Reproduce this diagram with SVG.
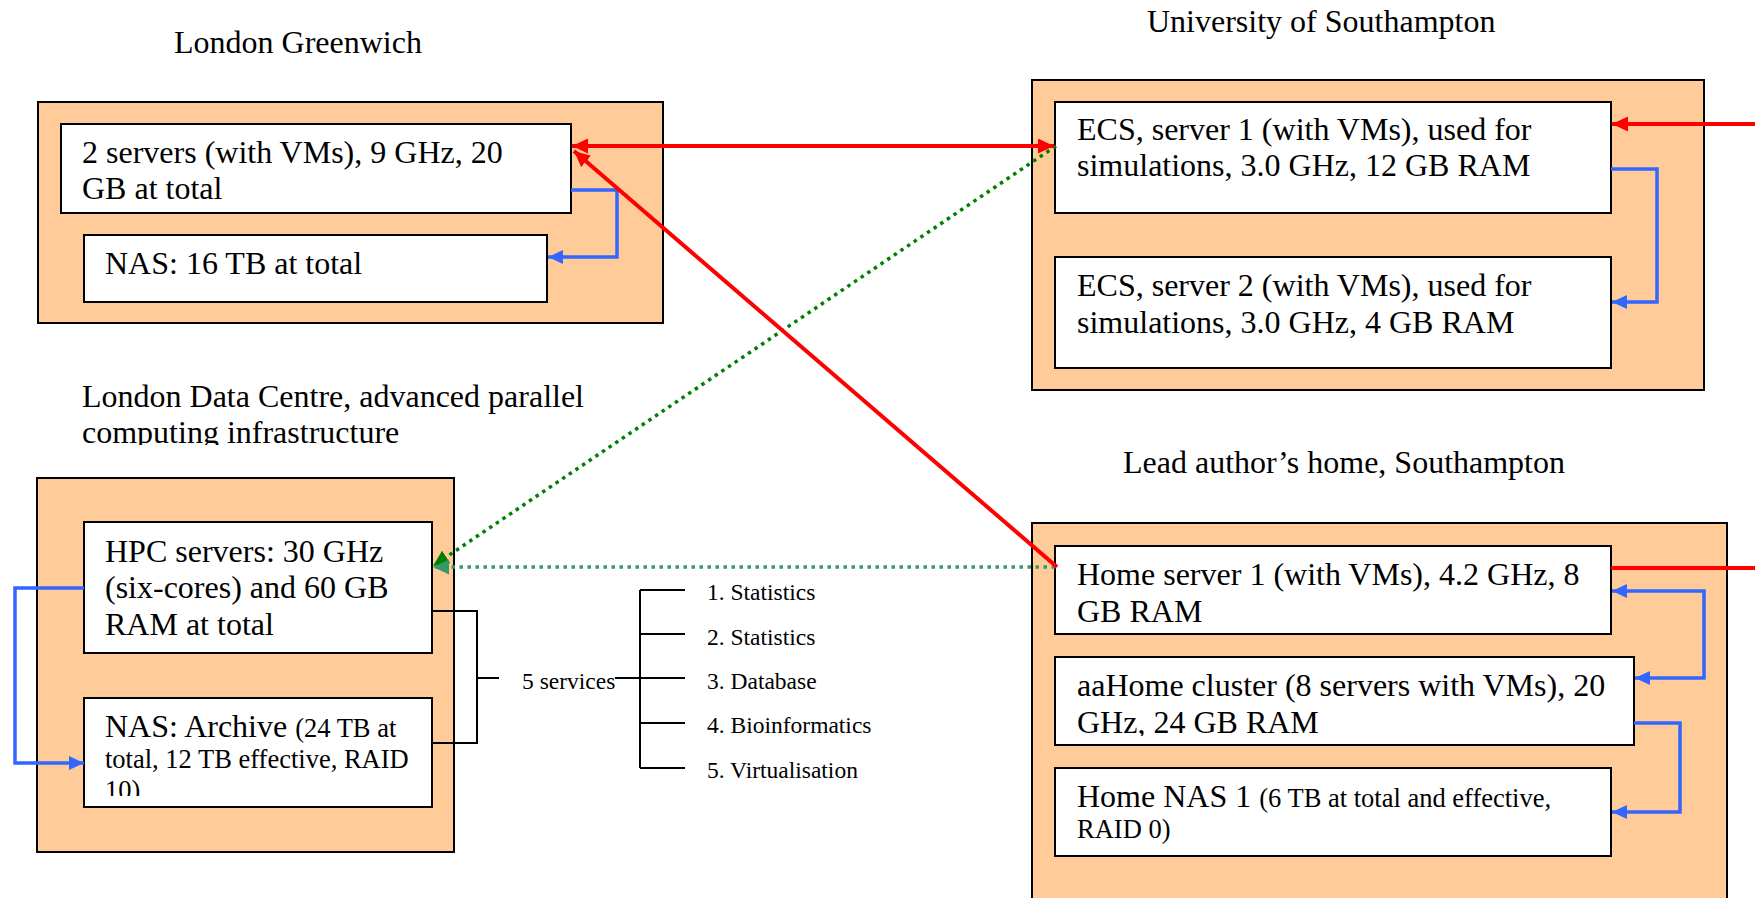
<svg xmlns="http://www.w3.org/2000/svg" width="1755" height="898" viewBox="0 0 1755 898">
  <defs>
    <style>
      text { font-family: "Liberation Serif", "Times New Roman", serif; fill: #000; }
      .title { font-size: 32px; }
      .big { font-size: 32px; }
      .small { font-size: 26.5px; }
      .svc { font-size: 23.5px; }
      .site { fill: #FFCC99; stroke: #000; stroke-width: 2; }
      .box { fill: #FFFFFF; stroke: #000; stroke-width: 2; }
      .red { fill: none; stroke: #FF0000; stroke-width: 4; }
      .blue { fill: none; stroke: #3366FF; stroke-width: 3.5; }
      .green { fill: none; stroke: #008000; stroke-width: 3.5; stroke-dasharray: 3.5 4.5; }
      .sea { fill: none; stroke: #339966; stroke-width: 3.5; stroke-dasharray: 3.5 4.5; }
      .tree { fill: none; stroke: #000; stroke-width: 2; }
    </style>
    <marker id="arrRed" markerUnits="userSpaceOnUse" markerWidth="17" markerHeight="16" refX="16" refY="7.5" orient="auto-start-reverse">
      <path d="M0,0 L16,7.5 L0,15 z" fill="#FF0000"/>
    </marker>
    <marker id="arrBlue" markerUnits="userSpaceOnUse" markerWidth="16" markerHeight="15" refX="15" refY="7" orient="auto-start-reverse">
      <path d="M0,0 L15,7 L0,14 z" fill="#3366FF"/>
    </marker>
    <marker id="arrGreen" markerUnits="userSpaceOnUse" markerWidth="17" markerHeight="16" refX="16" refY="7.5" orient="auto">
      <path d="M0,0 L16,7.5 L0,15 z" fill="#008000"/>
    </marker>
    <marker id="arrSea" markerUnits="userSpaceOnUse" markerWidth="17" markerHeight="16" refX="16" refY="7.5" orient="auto">
      <path d="M0,0 L16,7.5 L0,15 z" fill="#339966"/>
    </marker>
    <clipPath id="clipLdcTitle"><rect x="0" y="370" width="620" height="75"/></clipPath>
    <clipPath id="clipArchive"><rect x="85" y="699" width="346" height="97"/></clipPath>
    <clipPath id="clipCluster"><rect x="1056" y="658" width="577" height="78"/></clipPath>
  </defs>

  <!-- Sites -->
  <g id="site-greenwich">
    <text class="title" x="174" y="53">London Greenwich</text>
    <rect class="site" x="38" y="102" width="625" height="221"/>
  </g>
  <g id="site-southampton-uni">
    <text class="title" x="1147" y="32">University of Southampton</text>
    <rect class="site" x="1032" y="80" width="672" height="310"/>
  </g>
  <g id="site-london-dc">
    <g clip-path="url(#clipLdcTitle)">
      <text class="title" x="82" y="407">London Data Centre, advanced parallel</text>
      <text class="title" x="82" y="443">computing infrastructure</text>
    </g>
    <rect class="site" x="37" y="478" width="417" height="374"/>
  </g>
  <g id="site-home">
    <text class="title" x="1123" y="473">Lead author’s home, Southampton</text>
    <rect class="site" x="1032" y="523" width="695" height="420"/>
  </g>

  <!-- Machines -->
  <g id="greenwich-servers">
    <rect class="box" x="61" y="124" width="510" height="89"/>
    <text class="big" x="82" y="163">2 servers (with VMs), 9 GHz, 20</text>
    <text class="big" x="82" y="199">GB at total</text>
  </g>
  <g id="greenwich-nas">
    <rect class="box" x="84" y="235" width="463" height="67"/>
    <text class="big" x="105" y="274">NAS: 16 TB at total</text>
  </g>
  <g id="ecs-server-1">
    <rect class="box" x="1055" y="102" width="556" height="111"/>
    <text class="big" x="1077" y="140">ECS, server 1 (with VMs), used for</text>
    <text class="big" x="1077" y="176">simulations, 3.0 GHz, 12 GB RAM</text>
  </g>
  <g id="ecs-server-2">
    <rect class="box" x="1055" y="257" width="556" height="111"/>
    <text class="big" x="1077" y="296">ECS, server 2 (with VMs), used for</text>
    <text class="big" x="1077" y="333">simulations, 3.0 GHz, 4 GB RAM</text>
  </g>
  <g id="hpc-servers">
    <rect class="box" x="84" y="522" width="348" height="131"/>
    <text class="big" x="105" y="562">HPC servers: 30 GHz</text>
    <text class="big" x="105" y="598">(six-cores) and 60 GB</text>
    <text class="big" x="105" y="635">RAM at total</text>
  </g>
  <g id="archive-nas">
    <rect class="box" x="84" y="698" width="348" height="109"/>
    <g clip-path="url(#clipArchive)">
      <text x="105" y="737"><tspan class="big">NAS: Archive </tspan><tspan class="small">(24 TB at</tspan></text>
      <text class="small" x="105" y="768">total, 12 TB effective, RAID</text>
      <text class="small" x="105" y="799">10)</text>
    </g>
  </g>
  <g id="home-server-1">
    <rect class="box" x="1055" y="546" width="556" height="88"/>
    <text class="big" x="1077" y="585">Home server 1 (with VMs), 4.2 GHz, 8</text>
    <text class="big" x="1077" y="622">GB RAM</text>
  </g>
  <g id="home-cluster">
    <rect class="box" x="1055" y="657" width="579" height="88"/>
    <g clip-path="url(#clipCluster)">
      <text class="big" x="1077" y="696">aaHome cluster (8 servers with VMs), 20</text>
      <text class="big" x="1077" y="733">GHz, 24 GB RAM</text>
    </g>
  </g>
  <g id="home-nas">
    <rect class="box" x="1055" y="768" width="556" height="88"/>
    <text x="1077" y="807"><tspan class="big">Home NAS 1 </tspan><tspan class="small">(6 TB at total and effective,</tspan></text>
    <text class="small" x="1077" y="838">RAID 0)</text>
  </g>

  <!-- Services list -->
  <g id="services">
    <text class="svc" x="522" y="689">5 services</text>
    <text class="svc" x="707" y="600">1. Statistics</text>
    <text class="svc" x="707" y="645">2. Statistics</text>
    <text class="svc" x="707" y="689">3. Database</text>
    <text class="svc" x="707" y="733">4. Bioinformatics</text>
    <text class="svc" x="707" y="778">5. Virtualisation</text>
  </g>

  <!-- Links -->
  <g id="connectors">
    <!-- local links inside each site -->
    <polyline class="blue" points="571,190 617,190 617,257 548,257" marker-end="url(#arrBlue)"/>
    <polyline class="blue" points="1611,169 1657,169 1657,302 1612,302" marker-end="url(#arrBlue)"/>
    <polyline class="blue" points="84,588 15,588 15,763 84,763" marker-end="url(#arrBlue)"/>
    <polyline class="blue" points="1612,591 1704,591 1704,678 1635,678" marker-start="url(#arrBlue)" marker-end="url(#arrBlue)"/>
    <polyline class="blue" points="1634,723 1680,723 1680,812 1612,812" marker-end="url(#arrBlue)"/>

    <!-- services bracket and tree -->
    <polyline class="tree" points="432,611 477,611 477,743 432,743"/>
    <line class="tree" x1="477" y1="678" x2="499" y2="678"/>
    <line class="tree" x1="615" y1="678" x2="640" y2="678"/>
    <line class="tree" x1="640" y1="590" x2="640" y2="768"/>
    <line class="tree" x1="640" y1="590" x2="685" y2="590"/>
    <line class="tree" x1="640" y1="634" x2="685" y2="634"/>
    <line class="tree" x1="640" y1="678" x2="685" y2="678"/>
    <line class="tree" x1="640" y1="723" x2="685" y2="723"/>
    <line class="tree" x1="640" y1="768" x2="685" y2="768"/>

    <!-- inter-site links -->
    <line class="green" x1="1056" y1="146" x2="433" y2="566" marker-end="url(#arrGreen)"/>
    <line class="sea" x1="1055" y1="567" x2="433" y2="567" marker-end="url(#arrSea)"/>
    <line class="red" x1="572" y1="146" x2="1054" y2="146" marker-start="url(#arrRed)" marker-end="url(#arrRed)"/>
    <line class="red" x1="1057" y1="567" x2="574" y2="151" marker-end="url(#arrRed)"/>
    <polyline class="red" points="1611,568 1800,568 1800,124 1612,124" marker-end="url(#arrRed)"/>
  </g>
</svg>
